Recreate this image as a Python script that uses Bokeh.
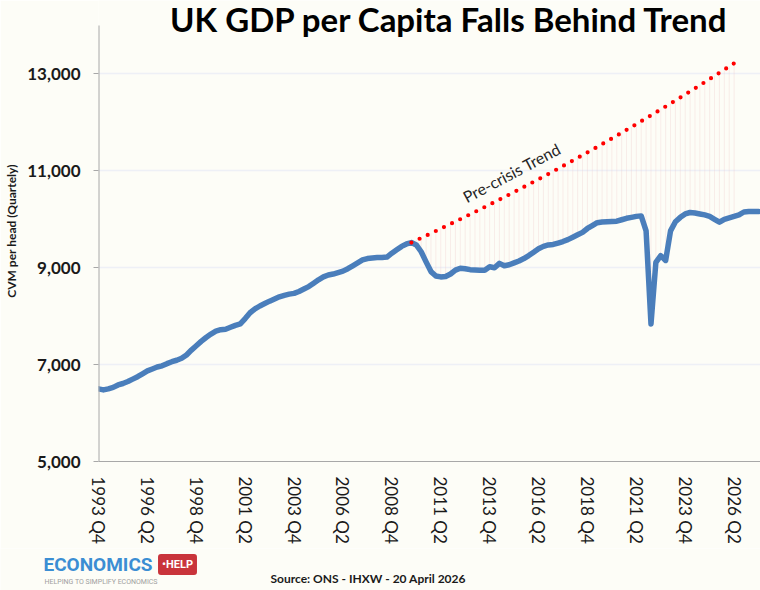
import math
from bokeh.plotting import figure
from bokeh.layouts import column
from bokeh.models import Range1d, FixedTicker, NumeralTickFormatter, Label
from bokeh.embed import file_html
from bokeh.resources import INLINE

# Quarterly GDP per head (CVM), one value per quarter, index 0 = first quarter shown
gdp = [
    6500, 6478, 6500, 6530, 6580, 6610, 6650, 6700, 6750, 6810,
    6870, 6910, 6950, 6975, 7020, 7060, 7090, 7130, 7200, 7300,
    7390, 7480, 7560, 7630, 7690, 7720, 7730, 7770, 7810, 7840,
    7950, 8070, 8150, 8210, 8260, 8310, 8355, 8400, 8430, 8455,
    8470, 8510, 8560, 8610, 8680, 8750, 8810, 8850, 8870, 8900,
    8930, 8980, 9040, 9100, 9160, 9190, 9200, 9210, 9210, 9220,
    9300, 9370, 9440, 9490, 9520, 9470, 9330, 9120, 8920, 8830,
    8810, 8820, 8870, 8950, 8990, 8980, 8960, 8955, 8950, 8950,
    9020, 9000, 9090, 9040, 9060, 9100, 9140, 9190, 9250, 9320,
    9390, 9440, 9470, 9480, 9510, 9540, 9580, 9630, 9680, 9730,
    9810, 9870, 9930, 9945, 9950, 9955, 9960, 9990, 10020, 10040,
    10060, 10070, 9760, 7840, 9110, 9250, 9150, 9760, 9950, 10040,
    10110, 10140, 10130, 10110, 10090, 10060, 10000, 9940, 10000, 10030,
    10060, 10090, 10150, 10160, 10160, 10160,
]

# Pre-crisis trend, starting at the pre-crisis peak (quarter index 64)
trend_start = 64
trend = [
    9520, 9567, 9614, 9662, 9710, 9758, 9806, 9855, 9904, 9953,
    10002, 10052, 10102, 10152, 10202, 10253, 10304, 10355, 10406, 10458,
    10510, 10562, 10614, 10667, 10720, 10773, 10827, 10881, 10935, 10990,
    11045, 11100, 11155, 11211, 11267, 11323, 11380, 11437, 11494, 11552,
    11610, 11668, 11727, 11786, 11845, 11904, 11964, 12024, 12084, 12145,
    12206, 12267, 12328, 12390, 12452, 12514, 12577, 12640, 12703, 12767,
    12831, 12895, 12960, 13025, 13090, 13155, 13220,
]

tick_positions = [0, 10, 20, 30, 40, 50, 60, 70, 80, 90, 100, 110, 120, 130]
tick_labels = ["1993 Q4", "1996 Q2", "1998 Q4", "2001 Q2", "2003 Q4", "2006 Q2", "2008 Q4",
               "2011 Q2", "2013 Q4", "2016 Q2", "2018 Q4", "2021 Q2", "2023 Q4", "2026 Q2"]
y_ticks = [5000, 7000, 9000, 11000, 13000]
y_min, y_max = 5000, 14000

BG = "#FDFDF7"
FONT = "Lato"
AXIS = "#A8A8A8"

x = list(range(len(gdp)))
tx = list(range(trend_start, trend_start + len(trend)))

# main chart: frame reaches the top of the canvas so the title (drawn inside) is never clipped
p = figure(width=760, height=548, output_backend="svg", toolbar_location=None,
           x_range=Range1d(0, 135.4), y_range=Range1d(y_min, 14516),
           min_border_left=98, min_border_right=0, min_border_top=0, min_border_bottom=87)
p.background_fill_color = BG
p.border_fill_color = BG
p.outline_line_color = None

# faint drop lines between trend and actual
p.segment(x0=tx, y0=[gdp[i] for i in tx], x1=tx, y1=trend,
          line_color="#F0C8C8", line_alpha=0.3, line_width=1)

p.line(x, gdp, line_color="#4A7EBB", line_width=5.5, line_join="round", line_cap="round")
p.line(tx, trend, line_color="#FF0000", line_width=4.2, line_dash="0 9", line_cap="round")

# vertical axis line only up to the axis maximum
p.segment(x0=[0], y0=[y_min], x1=[0], y1=[y_max], line_color=AXIS, line_width=2)

# axes
p.xaxis.ticker = FixedTicker(ticks=tick_positions)
p.xaxis.major_label_overrides = {t: l for t, l in zip(tick_positions, tick_labels)}
p.xaxis.major_label_orientation = -math.pi / 2
p.xaxis.major_label_text_font = FONT
p.xaxis.major_label_text_font_size = "17px"
p.xaxis.major_label_text_color = "#1A1A1A"
p.xaxis.major_label_standoff = 15
p.xaxis.major_tick_out = 0
p.xaxis.major_tick_in = 0
p.xaxis.minor_tick_out = 0
p.xaxis.minor_tick_in = 0
p.xaxis.axis_line_color = AXIS

p.yaxis.ticker = FixedTicker(ticks=y_ticks)
p.yaxis.formatter = NumeralTickFormatter(format="0,0")
p.yaxis.major_label_text_font = FONT
p.yaxis.major_label_text_font_style = "bold"
p.yaxis.major_label_text_font_size = "17px"
p.yaxis.major_label_text_color = "#1A1A1A"
p.yaxis.major_tick_out = 5
p.yaxis.major_tick_in = 0
p.yaxis.minor_tick_out = 0
p.yaxis.minor_tick_in = 0
p.yaxis.major_label_standoff = 13
p.yaxis.major_tick_line_color = AXIS
p.yaxis.axis_line_color = None
p.yaxis.axis_label = "CVM per head (Quartely)"
p.yaxis.axis_label_text_font = FONT
p.yaxis.axis_label_text_font_style = "bold"
p.yaxis.axis_label_text_font_size = "12px"
p.yaxis.axis_label_text_color = "#1A1A1A"
p.yaxis.axis_label_standoff = 5

p.xgrid.grid_line_color = None
p.ygrid.grid_line_color = "#EEF0F6"
p.ygrid.grid_line_width = 1.5

# title
p.add_layout(Label(x=71.8, y=14140, text="UK GDP per Capita Falls Behind Trend",
                   text_font=FONT, text_font_style="bold", text_font_size="33px",
                   text_align="center", text_baseline="middle", text_color="#000000"))

# trend annotation
p.add_layout(Label(x=84.5, y=10965, text="Pre-crisis Trend", angle=28, angle_units="deg",
                   text_font=FONT, text_font_size="16px", text_color="#262626",
                   text_align="center", text_baseline="middle"))

# footer with logo and source (pixel-like coordinates, y downwards)
f = figure(width=760, height=42, output_backend="svg", toolbar_location=None,
           x_range=Range1d(0, 760), y_range=Range1d(590, 548),
           x_axis_location=None, y_axis_location=None,
           min_border_left=0, min_border_right=0, min_border_top=0, min_border_bottom=0)
f.background_fill_color = BG
f.border_fill_color = BG
f.outline_line_color = None
f.grid.grid_line_color = None

# keep the footer's frame spanning the whole width (no frame alignment with the chart)
for plot in (p, f):
    if "frame_align" in plot.properties():
        plot.frame_align = False

f.add_layout(Label(x=270, y=578, text="Source: ONS - IHXW - 20 April 2026",
                   text_font=FONT, text_font_style="bold", text_font_size="12px",
                   text_align="left", text_baseline="middle", text_color="#1A1A1A"))
f.add_layout(Label(x=43, y=564, text="ECONOMICS",
                   text_font="Roboto", text_font_style="bold", text_font_size="19px",
                   text_align="left", text_baseline="middle", text_color="#3B8ED3"))
f.add_layout(Label(x=177, y=564, text="\u2022HELP",
                   text_font="Roboto", text_font_style="bold", text_font_size="11px",
                   text_align="center", text_baseline="middle", text_color="#FFFFFF",
                   background_fill_color="#C9343B", padding=4, border_radius=3))
f.add_layout(Label(x=44, y=581, text="HELPING TO SIMPLIFY ECONOMICS",
                   text_font="Roboto", text_font_size="7px",
                   text_align="left", text_baseline="middle", text_color="#A0A0A0"))

layout = column(p, f, spacing=0)
open("out.html", "w").write(file_html(layout, INLINE))
